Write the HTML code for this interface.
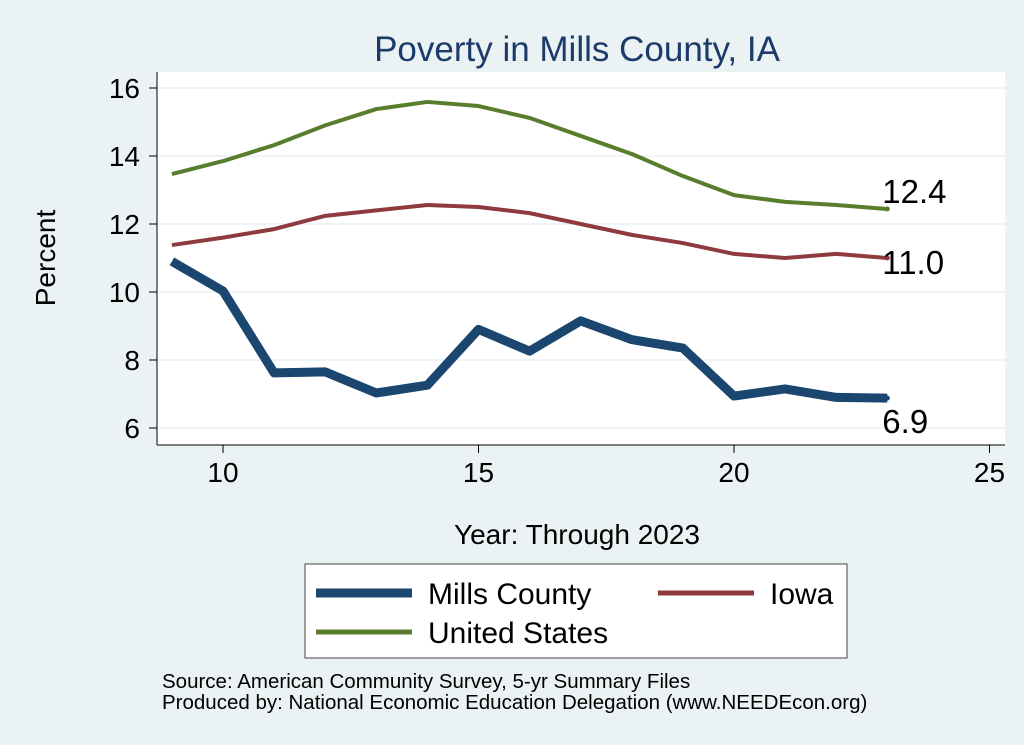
<!DOCTYPE html>
<html><head><meta charset="utf-8"><style>
body{margin:0;background:#eaf2f3;}
svg{display:block;font-family:"Liberation Sans",sans-serif;}
</style></head><body>
<svg id="c" width="1024" height="745">
<rect x="0" y="0" width="1024" height="745" fill="#eaf2f3"/>
<rect x="157" y="72" width="848" height="373" fill="#ffffff"/>
<text x="577" y="61" font-size="35" fill="#1c3a6a" text-anchor="middle">Poverty in Mills County, IA</text>
<g id="grid"></g><g id="axes"></g><g id="lines"></g>
<text x="55" y="258" font-size="28" text-anchor="middle" transform="rotate(-90 55 258)">Percent</text>
<text x="577" y="544" font-size="28" text-anchor="middle">Year: Through 2023</text>
<g>
<rect x="305" y="564" width="542" height="94" fill="#fff" stroke="#444" stroke-width="1"/>
<line x1="316" y1="593" x2="412" y2="593" stroke="#1a4670" stroke-width="9"/>
<text x="428" y="604" font-size="30">Mills County</text>
<line x1="658" y1="593" x2="754" y2="593" stroke="#8f3a3e" stroke-width="5"/>
<text x="770" y="604" font-size="30">Iowa</text>
<line x1="316" y1="632" x2="412" y2="632" stroke="#587d2d" stroke-width="5"/>
<text x="428" y="643" font-size="30">United States</text>
</g>
<text x="162" y="688" font-size="20.5">Source: American Community Survey, 5-yr Summary Files</text>
<text x="162" y="709" font-size="20.5">Produced by: National Economic Education Delegation (www.NEEDEcon.org)</text>
</svg>
<script>
const years=[9,10,11,12,13,14,15,16,17,18,19,20,21,22,23];
const mills=[10.9,10.03,7.62,7.65,7.03,7.26,8.9,8.26,9.15,8.6,8.35,6.94,7.15,6.9,6.88];
const iowa=[11.38,11.6,11.85,12.24,12.4,12.56,12.5,12.32,12.0,11.68,11.44,11.12,11.0,11.12,11.0];
const us=[13.47,13.85,14.32,14.9,15.38,15.59,15.47,15.12,14.59,14.06,13.41,12.85,12.65,12.56,12.44];
const xTicks=[10,15,20,25];
const yTicks=[6,8,10,12,14,16];
const NS='http://www.w3.org/2000/svg';
const X=v=>223+(v-10)*51.1;
const Y=v=>428-(v-6)*34;
function mk(p,t,a){const e=document.createElementNS(NS,t);for(const k in a)e.setAttribute(k,a[k]);p.appendChild(e);return e;}
const grid=document.getElementById('grid'),axes=document.getElementById('axes'),lines=document.getElementById('lines');
mk(axes,'line',{x1:157,y1:72,x2:157,y2:445,stroke:'#000','stroke-width':1});
mk(axes,'line',{x1:157,y1:445,x2:1005,y2:445,stroke:'#000','stroke-width':1});
yTicks.forEach(v=>{
 const g=mk(grid,'line',{x1:157,x2:1005,y1:Y(v),y2:Y(v),stroke:'#eaf2f3','stroke-width':1.5});
 
 
 mk(axes,'line',{x1:149,x2:157,y1:Y(v),y2:Y(v),stroke:'#000'});
 const t=mk(axes,'text',{x:140,y:Y(v)+10,'font-size':28,'text-anchor':'end'});t.textContent=v;
 
 
});
xTicks.forEach(v=>{
 mk(axes,'line',{x1:X(v),x2:X(v),y1:445,y2:453,stroke:'#000'});
 const t=mk(axes,'text',{x:X(v),y:482,'font-size':28,'text-anchor':'middle'});t.textContent=v;
 
 
});
function series(vals,color,w,name,dy){
 const d=vals.map((v,i)=>(i?'L':'M')+X(years[i])+','+Y(v)).join(' ');
 const p=mk(lines,'path',{d:d,fill:'none',stroke:color,'stroke-width':w,'stroke-linejoin':'round'});
 
 
 const last=vals[vals.length-1];
 mk(lines,'circle',{cx:X(years[years.length-1]),cy:Y(last),r:2.5,fill:color});
 const t=mk(lines,'text',{x:X(years[years.length-1])-5,y:Y(last)+dy,'font-size':33});
 t.textContent=last.toFixed(1);
 
 
}
series(us,'#587d2d',4,'us',-6);
series(iowa,'#8f3a3e',4,'iowa',16);
series(mills,'#1a4670',9,'mills',35);
</script>
</body></html>
